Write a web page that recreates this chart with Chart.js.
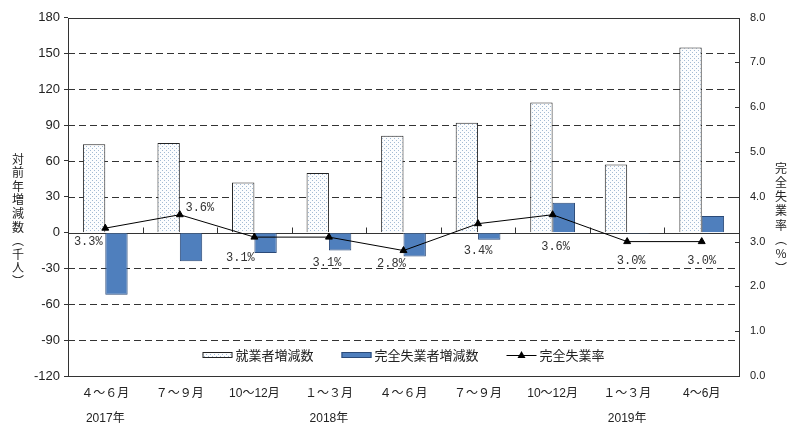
<!DOCTYPE html>
<html>
<head>
<meta charset="utf-8">
<script src="https://cdn.jsdelivr.net/npm/chart.js@4/dist/chart.umd.min.js"></script>
<style>
  body { margin: 0; background: #fff; }
  #wrap { width: 802px; height: 427px; }
</style>
</head>
<body>
<div id="wrap"><canvas id="chart" width="802" height="427"></canvas></div>
<script>
// データ
const quarters = ['４～６月', '７～９月', '10～12月', '１～３月', '４～６月', '７～９月', '10～12月', '１～３月', '4～6月'];
const years = ['2017年', '', '', '2018年', '', '', '', '2019年', ''];
const employedChange = [74, 75, 42, 50, 81, 92, 109, 57, 155];
const unemployedChange = [-52, -24, -17, -15, -20, -6, 25, -1, 14];
const unemploymentRate = [3.3, 3.6, 3.1, 3.1, 2.8, 3.4, 3.6, 3.0, 3.0];
const leftTitle = '対前年増減数︵千人︶';
const rightTitle = '完全失業率︵%︶';

const jpFont = "'Liberation Sans', 'Noto Sans CJK JP', sans-serif";
const cjk = "'Noto Sans CJK JP', sans-serif";

function dotPattern() {
    const c = document.createElement('canvas');
    c.width = 4; c.height = 4;
    const g = c.getContext('2d');
    g.fillStyle = '#fcfdfe';
    g.fillRect(0, 0, 4, 4);
    g.fillStyle = '#a3bbd4';
    g.fillRect(0, 0, 1, 1);
    g.fillRect(2, 2, 1, 1);
    return g.createPattern(c, 'repeat');
}
const dots = dotPattern();

// 目盛線・枠・ラベル・凡例
const decor = {
    id: 'decor',
    beforeDatasetsDraw(chart) {
        const { ctx, chartArea: a, scales } = chart;
        ctx.save();
        ctx.strokeStyle = '#333';
        ctx.lineWidth = 1;
        scales.y.ticks.forEach(t => {
            if (t.value === scales.y.min || t.value === scales.y.max) return;
            const y = Math.round(scales.y.getPixelForValue(t.value)) + 0.5;
            ctx.setLineDash(t.value === 0 ? [] : [7, 4]);
            ctx.beginPath();
            ctx.moveTo(a.left, y);
            ctx.lineTo(a.right, y);
            ctx.stroke();
        });
        ctx.setLineDash([]);
        // 0線上の区切り
        const y0 = Math.round(scales.y.getPixelForValue(0)) + 0.5;
        for (let i = 1; i < quarters.length; i++) {
            const x = Math.round((scales.x.getPixelForValue(i - 1) + scales.x.getPixelForValue(i)) / 2) + 0.5;
            ctx.beginPath();
            ctx.moveTo(x, y0);
            ctx.lineTo(x, y0 - 6);
            ctx.stroke();
        }
        ctx.restore();
    },
    afterDatasetsDraw(chart) {
        const { ctx, chartArea: a, scales } = chart;
        ctx.save();
        // 枠
        ctx.strokeStyle = '#333';
        ctx.lineWidth = 1;
        ctx.strokeRect(Math.round(a.left) + 0.5, Math.round(a.top) + 0.5, Math.round(a.right - a.left), Math.round(a.bottom - a.top));
        // 右軸の目盛（内向き）
        scales.y2.ticks.forEach(t => {
            const y = Math.round(scales.y2.getPixelForValue(t.value)) + 0.5;
            ctx.beginPath();
            ctx.moveTo(a.right - 4, y);
            ctx.lineTo(a.right, y);
            ctx.stroke();
        });

        // 完全失業率のラベル
        const offs = [[-17, 14], [20, -7], [-14, 21], [-2, 26], [-12, 13], [0, 27], [3, 32], [4, 19], [0, 19]];
        const meta = chart.getDatasetMeta(0);
        ctx.font = "12px 'Liberation Mono', monospace";
        ctx.fillStyle = '#333';
        ctx.textAlign = 'center';
        ctx.textBaseline = 'middle';
        meta.data.forEach((p, i) => {
            ctx.fillText(unemploymentRate[i].toFixed(1) + '%', p.x + offs[i][0], p.y + offs[i][1]);
        });

        // 凡例
        ctx.font = '13px ' + cjk;
        ctx.textAlign = 'left';
        const ds = chart.data.datasets;
        const items = [ds[1], ds[2], ds[0]];
        const widths = items.map(d => 33 + ctx.measureText(d.label).width);
        const gap = 28;
        let x = (a.left + a.right) / 2 - (widths.reduce((s, w) => s + w, 0) + gap * 2) / 2;
        const ly = 355;
        items.forEach((d, i) => {
            if (d.type === 'line') {
                ctx.strokeStyle = '#000';
                ctx.beginPath();
                ctx.moveTo(x, ly + 0.5);
                ctx.lineTo(x + 30, ly + 0.5);
                ctx.stroke();
                ctx.fillStyle = '#000';
                ctx.beginPath();
                ctx.moveTo(x + 15, ly - 4);
                ctx.lineTo(x + 19, ly + 3);
                ctx.lineTo(x + 11, ly + 3);
                ctx.closePath();
                ctx.fill();
            } else {
                ctx.fillStyle = d.backgroundColor;
                ctx.fillRect(x, ly - 3, 30, 6);
                ctx.strokeStyle = d.borderColor;
                ctx.strokeRect(x + 0.5, ly - 3 + 0.5, 29, 5);
            }
            ctx.fillStyle = '#222';
            ctx.fillText(d.label, x + 33, ly);
            x += widths[i] + gap;
        });

        // 縦書き軸タイトル
        ctx.textAlign = 'center';
        ctx.font = '12px ' + cjk;
        [...leftTitle].forEach((ch, i) => ctx.fillText(ch, 18, 159 + i * 13.6));
        [...rightTitle].forEach((ch, i) => ctx.fillText(ch, 781, 168 + i * 14.3));
        ctx.restore();
    }
};

new Chart(document.getElementById('chart'), {
    data: {
        labels: quarters.map((q, i) => [q, years[i]]),
        datasets: [
            {
                type: 'line',
                label: '完全失業率',
                data: unemploymentRate,
                yAxisID: 'y2',
                borderColor: '#000',
                borderWidth: 1,
                backgroundColor: '#000',
                pointStyle: 'triangle',
                pointRadius: 4,
                pointBorderWidth: 1,
                tension: 0,
                order: 0
            },
            {
                type: 'bar',
                label: '就業者増減数',
                data: employedChange,
                yAxisID: 'y',
                backgroundColor: dots,
                borderColor: '#222',
                borderWidth: 1,
                categoryPercentage: 0.6,
                barPercentage: 1.0,
                order: 1
            },
            {
                type: 'bar',
                label: '完全失業者増減数',
                data: unemployedChange,
                yAxisID: 'y',
                backgroundColor: '#4f7fbd',
                borderColor: '#2b4a78',
                borderWidth: 1,
                categoryPercentage: 0.6,
                barPercentage: 1.0,
                order: 1
            }
        ]
    },
    options: {
        responsive: false,
        animation: false,
        layout: { padding: { top: 10, left: 0, right: 0, bottom: 0 } },
        plugins: { legend: { display: false }, tooltip: { enabled: false } },
        scales: {
            x: {
                grid: { display: false, drawTicks: false },
                border: { display: false },
                ticks: {
                    autoSkip: false,
                    maxRotation: 0,
                    padding: 5,
                    color: '#222',
                    font: { family: jpFont, size: 12, lineHeight: 2.1 }
                },
                afterFit: s => { s.height = 51; }
            },
            y: {
                position: 'left',
                min: -120,
                max: 180,
                grid: { drawOnChartArea: false, drawTicks: true, tickLength: 4, tickColor: '#333' },
                border: { display: false },
                ticks: {
                    stepSize: 30,
                    padding: 4,
                    color: '#222',
                    font: { family: jpFont, size: 13 }
                },
                afterFit: s => { s.width = 68; }
            },
            y2: {
                position: 'right',
                min: 0,
                max: 8,
                grid: { drawOnChartArea: false, drawTicks: false },
                border: { display: false },
                ticks: {
                    stepSize: 1,
                    padding: 11,
                    color: '#222',
                    font: { family: jpFont, size: 11 },
                    callback: v => v.toFixed(1)
                },
                afterFit: s => { s.width = 63; }
            }
        }
    },
    plugins: [decor]
});
</script>
</body>
</html>
